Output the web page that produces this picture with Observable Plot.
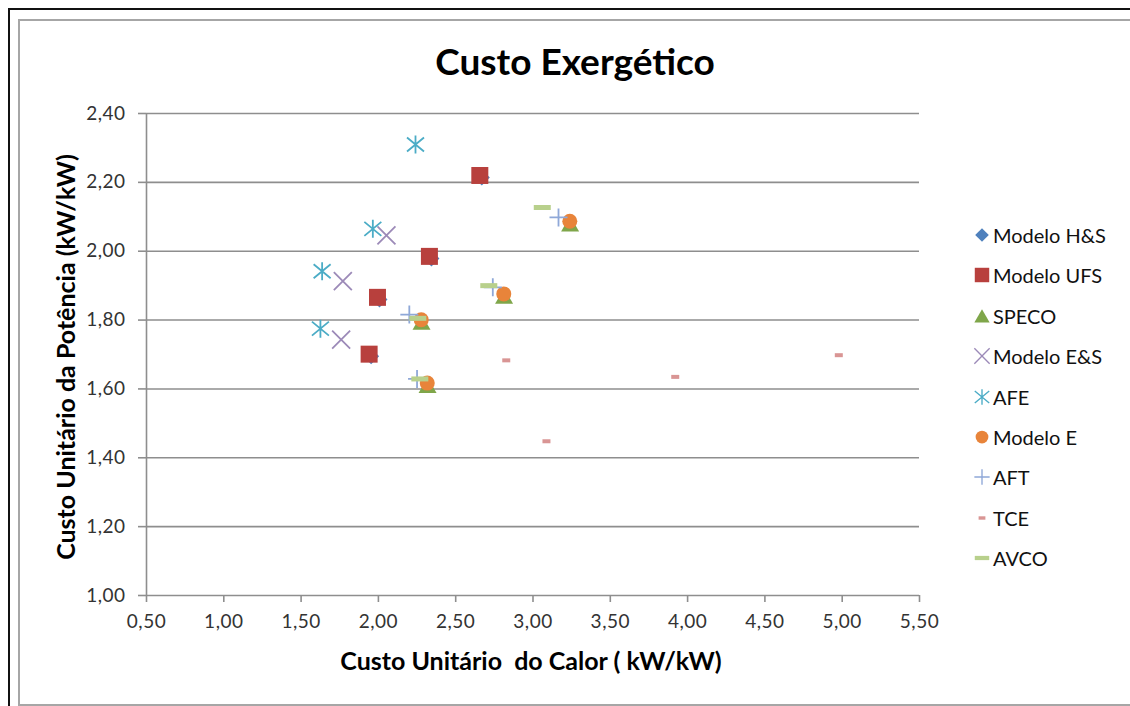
<!DOCTYPE html>
<html><head><meta charset="utf-8">
<script src="https://cdn.jsdelivr.net/npm/d3@7"></script>
<script src="https://cdn.jsdelivr.net/npm/@observablehq/plot@0.6"></script>
<style>
body{margin:0;background:#fff;font-family:Lato,"Open Sans",sans-serif;}
#wrap{position:relative;width:1130px;height:706px;overflow:hidden;background:#fff}
.abs{position:absolute}
#outer{left:8px;top:8px;width:1200px;height:800px;border-left:2.5px solid #111;border-top:2.5px solid #111}
#inner{left:18px;top:19px;width:1200px;height:683px;border-left:2px solid #a6a6a6;border-top:2px solid #a6a6a6;border-bottom:2px solid #a6a6a6}
#title{left:325px;width:500px;top:39px;text-align:center;font-weight:700;font-size:37px;color:#000;line-height:44px}
#xtitle{left:231px;width:600px;top:645px;text-align:center;font-weight:700;font-size:25px;color:#000;line-height:30px;white-space:pre}
#ytitle{left:-235px;width:600px;top:342px;text-align:center;font-weight:700;font-size:25px;color:#000;line-height:30px;transform:rotate(-90deg);white-space:pre}
.leg{position:absolute;left:972px;height:24px;display:flex;align-items:center;font-size:20px;color:#111;white-space:nowrap}
.leg svg{width:20px;height:22px;margin-right:1px;overflow:visible}
</style></head><body><div id="wrap">
<div id="outer" class="abs"></div>
<div id="inner" class="abs"></div>
</div>
<script>
// ---- data ----
const seriesNames = ["Modelo H&S","Modelo UFS","SPECO","Modelo E&S","AFE","Modelo E","AFT","TCE","AVCO"];
const seriesColors = ["#4F81BD","#B8403D","#7FA64A","#9C8AB8","#4BACC6","#E8843A","#8FA8D8","#D99594","#B8D08C"];
const hsX  = [2.669, 2.343, 2.007, 1.953];
const hsY  = [2.214, 1.979, 1.860, 1.695];
const ufsX = [2.656, 2.330, 1.994, 1.940];
const ufsY = [2.220, 1.985, 1.866, 1.701];
const specoX = [3.240, 2.813, 2.279, 2.318];
const specoY = [2.079, 1.869, 1.794, 1.610];
const esX  = [2.052, 1.770, 1.759];
const esY  = [2.046, 1.913, 1.743];
const afeX = [2.240, 1.964, 1.636, 1.625];
const afeY = [2.310, 2.065, 1.942, 1.775];
const eX   = [3.238, 2.811, 2.277, 2.316];
const eY   = [2.087, 1.876, 1.801, 1.617];
const aftX = [3.165, 2.740, 2.200, 2.250];
const aftY = [2.098, 1.895, 1.816, 1.629];
const tceX = [2.827, 3.920, 4.978, 3.087];
const tceY = [1.683, 1.635, 1.698, 1.448];
const avcoX = [3.060, 2.714, 2.255, 2.268];
const avcoY = [2.127, 1.900, 1.805, 1.629];
const xTicks = [0.5,1.0,1.5,2.0,2.5,3.0,3.5,4.0,4.5,5.0,5.5];
const yTicks = [1.0,1.2,1.4,1.6,1.8,2.0,2.2,2.4];
const titleText = "Custo Exergético";
const xLabel = "Custo Unitário  do Calor ( kW/kW)";
const yLabel = "Custo Unitário da Potência (kW/kW)";

// ---- symbols (pixel geometry) ----
const symDiamond = {draw(c){c.moveTo(0,-8);c.lineTo(8,0);c.lineTo(0,8);c.lineTo(-8,0);c.closePath();}};
const symSquare  = {draw(c){c.rect(-8.5,-8.5,17,17);}};
const symTriangle= {draw(c){c.moveTo(0,-8);c.lineTo(9,7.5);c.lineTo(-9,7.5);c.closePath();}};
const symTimes   = {draw(c){c.moveTo(-9,-9);c.lineTo(9,9);c.moveTo(9,-9);c.lineTo(-9,9);}};
const symStar    = {draw(c){c.moveTo(0,-9);c.lineTo(0,9);c.moveTo(-8.5,-7);c.lineTo(8.5,7);c.moveTo(8.5,-7);c.lineTo(-8.5,7);}};
const symCircle  = {draw(c){c.moveTo(7.5,0);c.arc(0,0,7.5,0,2*Math.PI);}};
const symPlus    = {draw(c){c.moveTo(-9,0);c.lineTo(9,0);c.moveTo(0,-9);c.lineTo(0,9);}};
const symTce     = {draw(c){c.rect(-4,-2,8,4);}};
const symDash    = {draw(c){c.rect(-8.5,-2.5,17,5);}};

const series = [
  {x:hsX,y:hsY,sym:symDiamond,filled:true},
  {x:ufsX,y:ufsY,sym:symSquare,filled:true},
  {x:specoX,y:specoY,sym:symTriangle,filled:true},
  {x:esX,y:esY,sym:symTimes,filled:false},
  {x:afeX,y:afeY,sym:symStar,filled:false},
  {x:eX,y:eY,sym:symCircle,filled:true},
  {x:aftX,y:aftY,sym:symPlus,filled:false},
  {x:tceX,y:tceY,sym:symTce,filled:true},
  {x:avcoX,y:avcoY,sym:symDash,filled:true}
].map((s,i)=>({...s,name:seriesNames[i],color:seriesColors[i]}));

const fmt = d => d.toFixed(2).replace(".", ",");
const gridColor = "#8e8e8e";

const marks = [
  Plot.gridY(yTicks.slice(1), {stroke:gridColor, strokeOpacity:1, strokeWidth:1.6}),
  Plot.ruleX([0.5], {stroke:gridColor, strokeWidth:1.6}),
  Plot.ruleY([1.0], {stroke:gridColor, strokeWidth:1.6}),
  Plot.axisX({ticks:xTicks, tickFormat:fmt, tickSize:7, tickPadding:12, stroke:gridColor, strokeWidth:1.6, label:null}),
  Plot.axisY({ticks:yTicks, tickFormat:fmt, tickSize:8, tickPadding:13, stroke:gridColor, strokeWidth:1.6, label:null})
];
for (const s of series) {
  const data = s.x.map((x,j)=>({x, y:s.y[j], series:s.name}));
  marks.push(Plot.dot(data, s.filled
    ? {x:"x", y:"y", symbol:s.sym, r:5, fill:s.color, stroke:"none"}
    : {x:"x", y:"y", symbol:s.sym, r:5, fill:"none", stroke:s.color, strokeWidth:1.8}));
}

const chart = Plot.plot({
  width:1130, height:706,
  marginLeft:146, marginRight:211, marginTop:113, marginBottom:111,
  x:{domain:[0.5,5.5]},
  y:{domain:[1.0,2.4]},
  style:{fontFamily:"Lato, 'Open Sans', sans-serif", fontSize:"19px", color:"#333", background:"transparent", letterSpacing:"0.5px"},
  marks
});
chart.style.position = "absolute";
chart.style.left = "0px";
chart.style.top = "0px";
const wrap = document.getElementById("wrap");
wrap.appendChild(chart);

function addDiv(id, text){ const d=document.createElement("div"); d.id=id; d.className="abs"; d.textContent=text; wrap.appendChild(d); return d; }
addDiv("title", titleText);
addDiv("xtitle", xLabel);
addDiv("ytitle", yLabel);

series.forEach((s,i)=>{
  const item = document.createElement("div");
  item.className = "leg";
  item.style.top = (235 + i*40.4 - 12) + "px";
  const svg = d3.create("svg").attr("viewBox","-10 -11 20 22");
  const path = d3.symbol().type(s.sym)();
  svg.append("path").attr("d", path)
    .attr("fill", s.filled ? s.color : "none")
    .attr("stroke", s.filled ? "none" : s.color)
    .attr("stroke-width", 1.6)
    .attr("transform","scale(0.85)");
  item.appendChild(svg.node());
  const span = document.createElement("span");
  span.textContent = s.name;
  item.appendChild(span);
  wrap.appendChild(item);
});
</script>
</body></html>
